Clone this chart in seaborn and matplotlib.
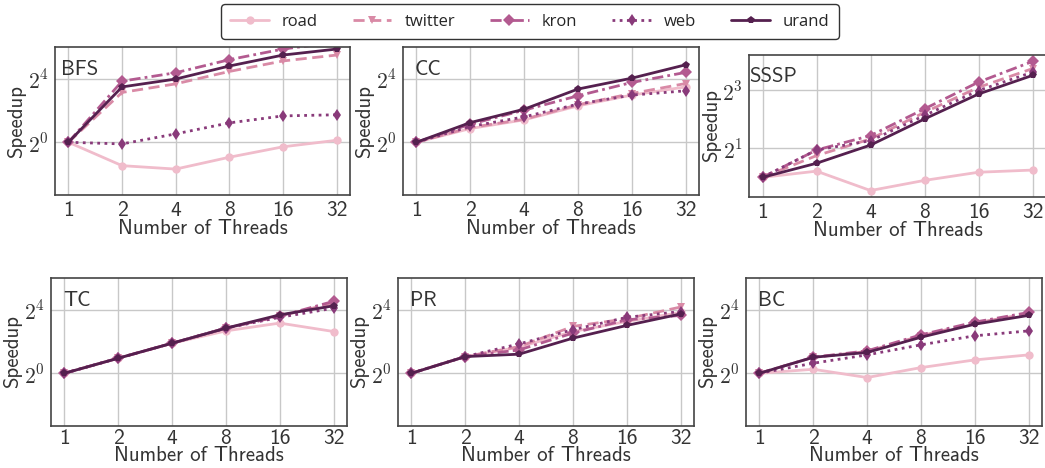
import numpy as np
import matplotlib
matplotlib.use("Agg")
import matplotlib.pyplot as plt
import pandas as pd
import seaborn as sns

# threads on the x axis
threads = [1, 2, 4, 8, 16, 32]
graphs = ["road", "twitter", "kron", "web", "urand"]

# speedups
bfs_road = [1, 0.36, 0.31, 0.52, 0.82, 1.09]
bfs_twitter = [1, 8.8, 12.8, 22.0, 34.8, 45.0]
bfs_kron = [1, 14.4, 20.8, 36.8, 58.5, 78.8]
bfs_web = [1, 0.93, 1.44, 2.33, 3.16, 3.32]
bfs_urand = [1, 11.2, 15.8, 27.9, 45.0, 58.5]

cc_road = [1, 1.82, 2.66, 4.89, 7.84, 11.2]
cc_twitter = [1, 1.9, 2.73, 5.13, 8.4, 13.0]
cc_kron = [1, 2.2, 4.06, 7.6, 13.6, 21.1]
cc_web = [1, 1.99, 3.03, 5.28, 7.84, 9.45]
cc_urand = [1, 2.36, 4.23, 10.2, 16.4, 29.4]

sssp_road = [1, 1.16, 0.73, 0.93, 1.13, 1.19]
sssp_twitter = [1, 1.68, 2.5, 4.72, 8.57, 13.4]
sssp_kron = [1, 1.92, 2.71, 5.13, 9.71, 15.9]
sssp_web = [1, 1.92, 2.4, 4.38, 7.94, 12.3]
sssp_urand = [1, 1.4, 2.16, 4.03, 7.31, 11.4]

tc_road = [1, 1.93, 3.71, 6.36, 8.94, 6.19]
tc_twitter = [1, 1.93, 3.71, 7.16, 12.1, 21.4]
tc_kron = [1, 1.93, 3.71, 7.16, 12.1, 23.1]
tc_web = [1, 1.93, 3.71, 7.16, 11.5, 17.1]
tc_urand = [1, 1.93, 3.71, 7.16, 12.8, 19.0]

pr_road = [1, 2.07, 3.12, 6.19, 9.58, 14.2]
pr_twitter = [1, 2.07, 3.2, 7.73, 10.8, 18.0]
pr_kron = [1, 2.07, 2.77, 5.78, 10.3, 12.5]
pr_web = [1, 2.07, 3.6, 6.68, 11.5, 14.8]
pr_urand = [1, 2.07, 2.3, 4.63, 8.06, 13.3]

bc_road = [1, 1.19, 0.83, 1.28, 1.79, 2.23]
bc_twitter = [1, 2.01, 2.58, 5.13, 8.94, 13.5]
bc_kron = [1, 2.01, 2.66, 5.35, 9.32, 14.2]
bc_web = [1, 1.55, 2.23, 3.46, 5.13, 6.36]
bc_urand = [1, 2.01, 2.48, 4.82, 8.51, 12.5]

kernels = ["BFS", "CC", "SSSP", "TC", "PR", "BC"]
series = {
    "BFS": [bfs_road, bfs_twitter, bfs_kron, bfs_web, bfs_urand],
    "CC": [cc_road, cc_twitter, cc_kron, cc_web, cc_urand],
    "SSSP": [sssp_road, sssp_twitter, sssp_kron, sssp_web, sssp_urand],
    "TC": [tc_road, tc_twitter, tc_kron, tc_web, tc_urand],
    "PR": [pr_road, pr_twitter, pr_kron, pr_web, pr_urand],
    "BC": [bc_road, bc_twitter, bc_kron, bc_web, bc_urand],
}

rows = []
for k in kernels:
    for g, vals in zip(graphs, series[k]):
        for t, v in zip(threads, vals):
            rows.append({"kernel": k, "graph": g, "threads": t, "speedup": v})
df = pd.DataFrame(rows)

colors = ["#f0bccb", "#d98aa6", "#b35a90", "#893a7a", "#55204f"]
palette = dict(zip(graphs, colors))
markers = {"road": "o", "twitter": "v", "kron": "D", "web": "d", "urand": "p"}
dashes = {"road": "", "twitter": (4, 2), "kron": (4, 1.5, 1, 1.5),
          "web": (1, 1.6), "urand": ""}

sns.set_style("whitegrid")
plt.rcParams["font.family"] = ["cmss10", "DejaVu Sans"]
plt.rcParams["mathtext.fontset"] = "cm"
plt.rcParams["axes.formatter.use_mathtext"] = True

W, H = 1045, 468
fig = plt.figure(figsize=(W / 100, H / 100), dpi=100)

# panel boxes in pixels: left, right, top, bottom
boxes = {
    "BFS": (55, 350, 47, 195),
    "CC": (403, 699, 47, 195),
    "SSSP": (749, 1046, 55, 197),
    "TC": (51, 347, 278, 426),
    "PR": (398, 694, 278, 426),
    "BC": (746, 1042, 278, 426),
}
title_x = {"BFS": 0.02, "CC": 0.04, "SSSP": 0.0, "TC": 0.04, "PR": 0.04, "BC": 0.04}

for i, k in enumerate(kernels):
    l, r, t, b = boxes[k]
    top_row = i < 3
    ax = fig.add_axes([l / W, 1 - b / H, (r - l) / W, (b - t) / H])
    ax.set_xscale("log", base=2)
    ax.set_yscale("log", base=2)
    sns.lineplot(data=df[df.kernel == k], x="threads", y="speedup",
                 hue="graph", style="graph", hue_order=graphs, style_order=graphs,
                 palette=palette, markers=markers, dashes=dashes,
                 linewidth=2, markersize=6, markeredgewidth=0, ax=ax, legend=(k == "BFS"))
    ax.set_xticks(threads)
    ax.set_xticklabels([str(t) for t in threads])
    ax.xaxis.set_minor_locator(matplotlib.ticker.NullLocator())
    ax.yaxis.set_minor_locator(matplotlib.ticker.NullLocator())
    if k == "SSSP":
        ax.set_yticks([2, 8])
        ax.set_yticklabels([r"$2^{1}$", r"$2^{3}$"])
    else:
        ax.set_ylim(0.1, 64)
        ax.set_yticks([1, 16])
        ax.set_yticklabels([r"$2^{0}$", r"$2^{4}$"])
    ax.tick_params(axis="x", labelsize=15.5, colors="#333333", pad=0.5 if top_row else -1.5)
    ax.tick_params(axis="y", labelsize=15.5, colors="#333333", pad=1)
    ax.set_xlabel("Number of Threads", fontsize=15, color="#333333",
                  labelpad=-0.5 if top_row else -1)
    ax.set_ylabel("Speedup", fontsize=15, color="#333333", labelpad=1)
    ax.grid(True, color="#c8c8c8", linewidth=1)
    for s in ax.spines.values():
        s.set_color("#444444")
        s.set_linewidth(1.2)
    ax.text(title_x[k], 0.85, k, transform=ax.transAxes, fontsize=15,
            color="#333333", va="center", ha="left")
    if k == "BFS":
        handles, labels = ax.get_legend_handles_labels()
        ax.get_legend().remove()

leg = fig.legend(handles, labels, loc="center", bbox_to_anchor=(530 / W, 1 - 21.5 / H),
                 ncol=5, frameon=True, fancybox=True, edgecolor="black",
                 prop={"family": "Open Sans", "size": 12}, handlelength=2.3,
                 columnspacing=2.1, borderpad=0.55)
leg.get_frame().set_linewidth(1.0)

fig.savefig("out.png", dpi=100)
